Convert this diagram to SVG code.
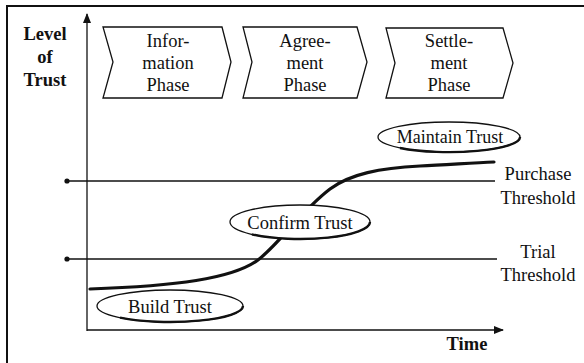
<svg xmlns="http://www.w3.org/2000/svg" width="584" height="363" viewBox="0 0 584 363" font-family="'Times New Roman', Tinos, 'Liberation Serif', 'DejaVu Serif', serif">
  <style>
    text { font-family: 'Times New Roman', Tinos, 'Liberation Serif', 'DejaVu Serif', serif; }
    .t { font-size: 18.5px; fill: #111; text-anchor: middle; }
    .b { font-weight: bold; }
    .ln { stroke: #111; stroke-width: 1.3; fill: none; }
    .ph { fill: #fff; stroke: #111; stroke-width: 1.3; stroke-linejoin: miter; }
    .el { fill: #fff; stroke: #111; stroke-width: 1.3; }
    .sh { fill: none; stroke: #111; stroke-width: 2.4; }
  </style>
  <defs>
    <marker id="arrow" viewBox="0 0 10 8" refX="9" refY="4" markerWidth="10" markerHeight="8" markerUnits="userSpaceOnUse" orient="auto">
      <path d="M0,0 L10,4 L0,8 Z" fill="#111"/>
    </marker>
  </defs>
  <rect width="584" height="363" fill="#fff"/>

  <!-- frame (top and left edges) -->
  <path d="M7,363 V6 H584" stroke="#111" stroke-width="2" fill="none"/>

  <!-- axis titles -->
  <g id="axis-y-label">
    <text class="t b" x="45" y="40">Level</text>
    <text class="t b" x="45" y="63">of</text>
    <text class="t b" x="45" y="86">Trust</text>
  </g>
  <g id="axis-x-label">
    <text class="t b" x="467" y="350">Time</text>
  </g>

  <!-- phase chevrons -->
  <g id="phase-information">
    <polygon class="ph" points="103,27 222,27 231,62 222,98 103,98 113,62"/>
    <text class="t" x="168" y="47">Infor-</text>
    <text class="t" x="168" y="69">mation</text>
    <text class="t" x="168" y="91">Phase</text>
  </g>
  <g id="phase-agreement">
    <polygon class="ph" points="243,27 357,27 367,62 357,98 243,98 252,62"/>
    <text class="t" x="305" y="47">Agree-</text>
    <text class="t" x="305" y="69">ment</text>
    <text class="t" x="305" y="91">Phase</text>
  </g>
  <g id="phase-settlement">
    <polygon class="ph" points="386,28 503,28 513,63 503,98 386,98 395,63"/>
    <text class="t" x="449" y="47">Settle-</text>
    <text class="t" x="449" y="69">ment</text>
    <text class="t" x="449" y="91">Phase</text>
  </g>

  <!-- axes, thresholds and trust curve -->
  <g id="connectors">
    <line class="ln" x1="87" y1="331" x2="87" y2="14" marker-end="url(#arrow)"/>
    <line class="ln" x1="87" y1="330" x2="503" y2="330" marker-end="url(#arrow)"/>
    <line class="ln" x1="67" y1="181" x2="495" y2="181"/>
    <line class="ln" x1="67" y1="259" x2="497" y2="259"/>
    <circle cx="67" cy="181" r="2.6" fill="#111"/>
    <circle cx="67" cy="259" r="2.6" fill="#111"/>
    <path d="M90,289 C175,286 232,279 258,260 C280,243 300,212 330,189 C350,174 380,168 420,166 C445,165 470,163 494,162" fill="none" stroke="#111" stroke-width="3.2" stroke-linecap="round"/>
  </g>

  <!-- threshold labels -->
  <g id="purchase-threshold">
    <text class="t" x="538" y="180">Purchase</text>
    <text class="t" x="538" y="204">Threshold</text>
  </g>
  <g id="trial-threshold">
    <text class="t" x="538" y="258">Trial</text>
    <text class="t" x="538" y="281">Threshold</text>
  </g>

  <!-- stage ellipses -->
  <g id="build-trust">
    <ellipse class="el" cx="170" cy="306" rx="73" ry="16"/>
    <path class="sh" d="M243,306 A73,16 0 0 1 120,317.6"/>
    <text class="t" x="170" y="313">Build Trust</text>
  </g>
  <g id="confirm-trust">
    <ellipse class="el" cx="300" cy="222" rx="70" ry="17"/>
    <path class="sh" d="M370,222 A70,17 0 0 1 252,234.4"/>
    <text class="t" x="300" y="229">Confirm Trust</text>
  </g>
  <g id="maintain-trust">
    <ellipse class="el" cx="449" cy="137" rx="71" ry="15"/>
    <path class="sh" d="M520,137 A71,15 0 0 1 400,148"/>
    <text class="t" x="450" y="143" style="font-size:18px">Maintain Trust</text>
  </g>
</svg>
